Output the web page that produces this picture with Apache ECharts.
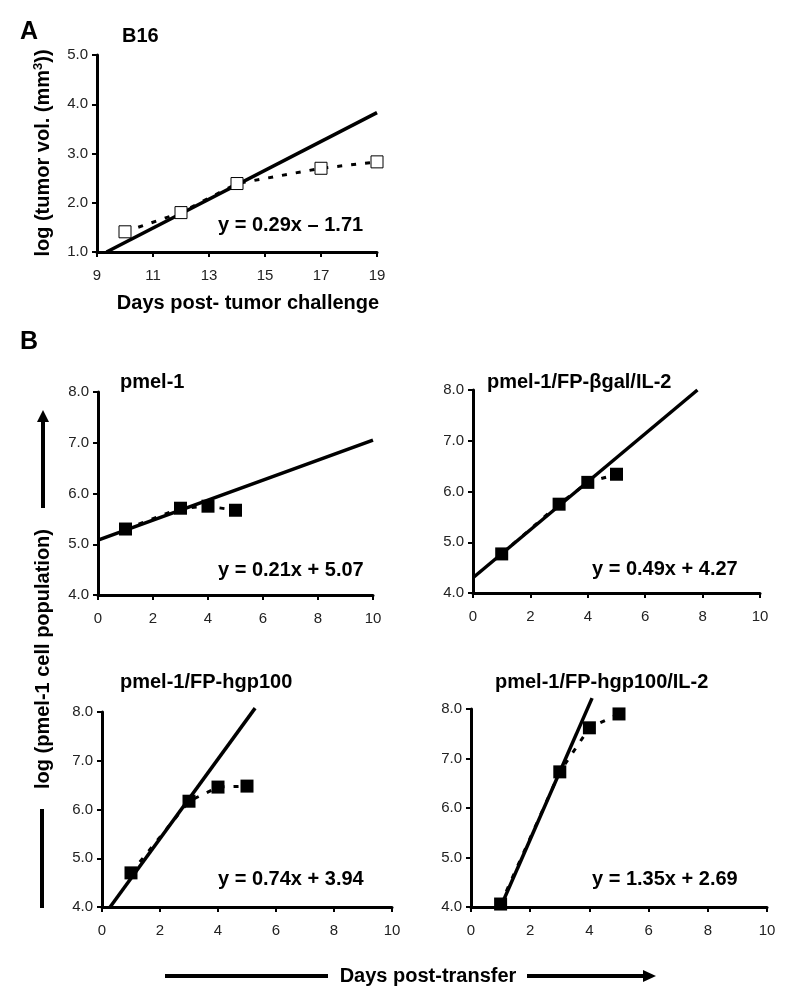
<!DOCTYPE html>
<html>
<head>
<meta charset="utf-8">
<script src="https://cdn.jsdelivr.net/npm/echarts@6/dist/echarts.min.js"></script>
<style>
html,body{margin:0;padding:0;background:#fff;}
#c{width:793px;height:1004px;}
</style>
</head>
<body>
<div id="c"></div>
<script>
// ---- Data ----
const aDays = [10, 12, 14, 17, 19];
const aLogVol = [1.41, 1.80, 2.39, 2.70, 2.83];
const aFit = [[9.34, 1.0], [19, 3.83]];

const bDays = [1, 3, 4, 5];
const pmel1 = [5.30, 5.71, 5.75, 5.67];
const pmel1Fit = [[0, 5.08], [10, 7.05]];
const bgalIL2 = [4.77, 5.75, 6.18, 6.34];
const bgalIL2Fit = [[0, 4.30], [7.82, 8.0]];
const hgp100 = [4.70, 6.17, 6.46, 6.48];
const hgp100Fit = [[0.28, 4.0], [5.28, 8.08]];
const hgp100IL2 = [4.06, 6.73, 7.62, 7.90];
const hgp100IL2Fit = [[1.0, 4.0], [4.09, 8.22]];

const titles = ['B16', 'pmel-1', 'pmel-1/FP-\u03B2gal/IL-2', 'pmel-1/FP-hgp100', 'pmel-1/FP-hgp100/IL-2'];
const equations = ['y = 0.29x \u2013 1.71', 'y = 0.21x + 5.07', 'y = 0.49x + 4.27', 'y = 0.74x + 3.94', 'y = 1.35x + 2.69'];

// ---- Layout ----
const FONT = '"Liberation Sans", Arial, sans-serif';
const grids = [
  {left: 97, top: 55, width: 280, height: 197},
  {left: 98, top: 392, width: 275, height: 203},
  {left: 473, top: 390, width: 287, height: 203},
  {left: 102, top: 712, width: 290, height: 195},
  {left: 471, top: 709, width: 296, height: 198}
];
const panels = [
  {xs: aDays, ys: aLogVol, fit: aFit, xmin: 9, xmax: 19, xint: 2, ymin: 1, ymax: 5, open: true},
  {xs: bDays, ys: pmel1, fit: pmel1Fit, xmin: 0, xmax: 10, xint: 2, ymin: 4, ymax: 8},
  {xs: bDays, ys: bgalIL2, fit: bgalIL2Fit, xmin: 0, xmax: 10, xint: 2, ymin: 4, ymax: 8},
  {xs: bDays, ys: hgp100, fit: hgp100Fit, xmin: 0, xmax: 10, xint: 2, ymin: 4, ymax: 8},
  {xs: bDays, ys: hgp100IL2, fit: hgp100IL2Fit, xmin: 0, xmax: 10, xint: 2, ymin: 4, ymax: 8}
];

const xAxes = [], yAxes = [], series = [];
panels.forEach((p, i) => {
  xAxes.push({
    gridIndex: i, type: 'value', min: p.xmin, max: p.xmax, interval: p.xint,
    axisLine: {show: true, onZero: false, lineStyle: {color: '#000', width: 3}},
    axisTick: {show: true, length: 5, lineStyle: {color: '#000', width: 2}},
    axisLabel: {color: '#222', fontSize: 15, fontFamily: FONT, margin: 16, showMinLabel: true, showMaxLabel: true},
    splitLine: {show: false}
  });
  yAxes.push({
    gridIndex: i, type: 'value', min: p.ymin, max: p.ymax, interval: 1,
    axisLine: {show: true, onZero: false, lineStyle: {color: '#000', width: 3}},
    axisTick: {show: true, length: 5, lineStyle: {color: '#000', width: 2}},
    axisLabel: {color: '#222', fontSize: 15, fontFamily: FONT, margin: 9, formatter: v => v.toFixed(1)},
    splitLine: {show: false}
  });
  const pts = p.xs.map((x, k) => [x, p.ys[k]]);
  series.push({
    type: 'line', xAxisIndex: i, yAxisIndex: i, data: pts, showSymbol: false, symbol: 'none',
    clip: false, z: 2,
    lineStyle: {color: '#000', width: 3, type: [5, 9], opacity: 1}
  });
  series.push({
    type: 'line', xAxisIndex: i, yAxisIndex: i, data: p.fit, showSymbol: false, symbol: 'none',
    clip: false, z: 3,
    lineStyle: {color: '#000', width: 3.5, opacity: 1}
  });
  series.push({
    type: 'scatter', xAxisIndex: i, yAxisIndex: i, data: pts, symbol: 'rect',
    symbolSize: p.open ? 12 : 13, clip: false, z: 4,
    itemStyle: p.open ? {color: '#fff', borderColor: '#000', borderWidth: 1, opacity: 1} : {color: '#000', opacity: 1}
  });
});

const titlePos = [[122, 36], [120, 382], [487, 382], [120, 682], [495, 682]];
const eqPos = [[218, 225], [218, 570], [592, 569], [218, 879], [592, 879]];
const graphic = [];
titles.forEach((t, i) => graphic.push({
  type: 'text', x: titlePos[i][0], y: titlePos[i][1],
  style: {text: t, font: 'bold 20px ' + FONT, fill: '#000', align: 'left', verticalAlign: 'middle'}
}));
equations.forEach((t, i) => graphic.push({
  type: 'text', x: eqPos[i][0], y: eqPos[i][1],
  style: {text: t, font: 'bold 20px ' + FONT, fill: '#000', align: 'left', verticalAlign: 'middle'}
}));
// Panel letters
graphic.push({type: 'text', x: 20, y: 32, style: {text: 'A', font: 'bold 25px ' + FONT, fill: '#000', align: 'left', verticalAlign: 'middle'}});
graphic.push({type: 'text', x: 20, y: 342, style: {text: 'B', font: 'bold 25px ' + FONT, fill: '#000', align: 'left', verticalAlign: 'middle'}});
// Panel A axis titles
graphic.push({type: 'text', x: 248, y: 303, style: {text: 'Days post- tumor challenge', font: 'bold 20px ' + FONT, fill: '#000', align: 'center', verticalAlign: 'middle'}});
graphic.push({
  type: 'text', x: 43, y: 153, rotation: Math.PI / 2,
  style: {
    text: '{a|log (tumor vol. (mm}{s|3}{a|))}', align: 'center', verticalAlign: 'middle',
    rich: {
      a: {font: 'bold 20px ' + FONT, fill: '#000', color: '#000'},
      s: {font: 'bold 13px ' + FONT, fill: '#000', color: '#000', padding: [0, 0, 9, 0]}
    }
  }
});
// Panel B shared y title with arrow
graphic.push({
  type: 'text', x: 43, y: 659, rotation: Math.PI / 2,
  style: {text: 'log (pmel-1 cell population)', font: 'bold 20px ' + FONT, fill: '#000', align: 'center', verticalAlign: 'middle'}
});
graphic.push({type: 'line', shape: {x1: 43, y1: 508, x2: 43, y2: 420}, style: {stroke: '#000', lineWidth: 4}});
graphic.push({type: 'polygon', shape: {points: [[43, 410], [37, 422], [49, 422]]}, style: {fill: '#000'}});
graphic.push({type: 'line', shape: {x1: 42, y1: 809, x2: 42, y2: 908}, style: {stroke: '#000', lineWidth: 4}});
// Panel B shared x title with arrow
graphic.push({type: 'text', x: 428, y: 976, style: {text: 'Days post-transfer', font: 'bold 20px ' + FONT, fill: '#000', align: 'center', verticalAlign: 'middle'}});
graphic.push({type: 'line', shape: {x1: 165, y1: 976, x2: 328, y2: 976}, style: {stroke: '#000', lineWidth: 4}});
graphic.push({type: 'line', shape: {x1: 527, y1: 976, x2: 645, y2: 976}, style: {stroke: '#000', lineWidth: 4}});
graphic.push({type: 'polygon', shape: {points: [[656, 976], [643, 970], [643, 982]]}, style: {fill: '#000'}});

const chart = echarts.init(document.getElementById('c'), null, {renderer: 'canvas'});
chart.setOption({
  animation: false,
  backgroundColor: '#fff',
  grid: grids.map(g => Object.assign({containLabel: false}, g)),
  xAxis: xAxes,
  yAxis: yAxes,
  series: series,
  graphic: graphic
});
</script>
</body>
</html>
